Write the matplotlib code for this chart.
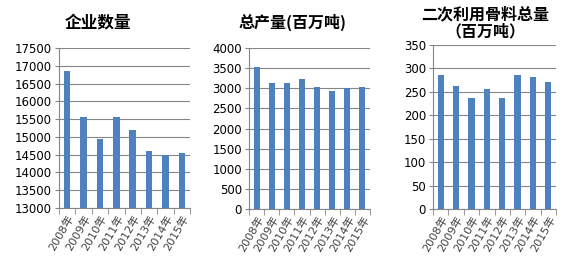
import matplotlib
matplotlib.use("Agg")
import matplotlib.pyplot as plt
import numpy as np

plt.rcParams['font.family'] = ['DejaVu Sans', 'Noto Sans CJK SC']

years = ["2008年", "2009年", "2010年", "2011年", "2012年", "2013年", "2014年", "2015年"]
enterprises = [16850, 15570, 14950, 15550, 15180, 14590, 14490, 14560]
output_mt = [3540, 3140, 3120, 3240, 3040, 2920, 3000, 3020]
recycled_mt = [287, 263, 237, 257, 237, 285, 282, 270]

titles = ["企业数量", "总产量(百万吨)", "二次利用骨料总量\n（百万吨）"]
ylims = [(13000, 17500), (0, 4000), (0, 350)]
ysteps = [500, 500, 50]
series = [enterprises, output_mt, recycled_mt]

W, H = 572, 276
fig = plt.figure(figsize=(W / 100, H / 100), dpi=100)
fig.patch.set_facecolor("white")

# axes boxes in pixels: left, right, top, bottom
boxes = [(59, 190, 48, 208), (249, 370, 48, 209), (433, 556, 45, 209)]
title_pos = [(98, 22), (293, 22), (485, 23)]
title_sizes = [12, 11.5, 11.5]

bar_color = "#4F81BD"
grid_color = "#868686"

for vals, title, ylim, step, box, tpos, tsize in zip(series, titles, ylims, ysteps, boxes,
                                                     title_pos, title_sizes):
    l, r, t, b = box
    ax = fig.add_axes([l / W, 1 - b / H, (r - l) / W, (b - t) / H])
    x = np.arange(len(years))
    ax.bar(x, vals, width=0.4, color=bar_color, zorder=3)
    ax.set_xlim(-0.5, len(years) - 0.5)
    ax.set_ylim(*ylim)
    ax.set_yticks(np.arange(ylim[0], ylim[1] + step / 2, step))
    ax.yaxis.grid(True, color=grid_color, linewidth=0.8, zorder=0)
    ax.set_axisbelow(True)
    for s in ("top", "right"):
        ax.spines[s].set_visible(False)
    ax.spines["left"].set_color(grid_color)
    ax.spines["bottom"].set_color(grid_color)
    ax.tick_params(axis="y", length=3, color=grid_color, labelsize=8.5, pad=2, labelcolor="#000000")
    # category labels at centres, tick marks at boundaries
    ax.set_xticks(x)
    ax.set_xticklabels(years, rotation=60, ha="right", va="top", rotation_mode="anchor",
                       fontsize=8, color="#444444", family=['DejaVu Sans', 'Noto Sans CJK SC'])
    ax.tick_params(axis="x", length=0, pad=4)
    ax.set_xticks(np.arange(-0.5, len(years)), minor=True)
    ax.tick_params(axis="x", which="minor", length=4, color=grid_color)
    fig.text(tpos[0] / W, 1 - tpos[1] / H, title, ha="center", va="center",
             fontsize=tsize, fontweight="bold", family=['Noto Sans CJK SC', 'DejaVu Sans'],
             linespacing=1.1)

fig.savefig("out.png", dpi=100, facecolor="white")
